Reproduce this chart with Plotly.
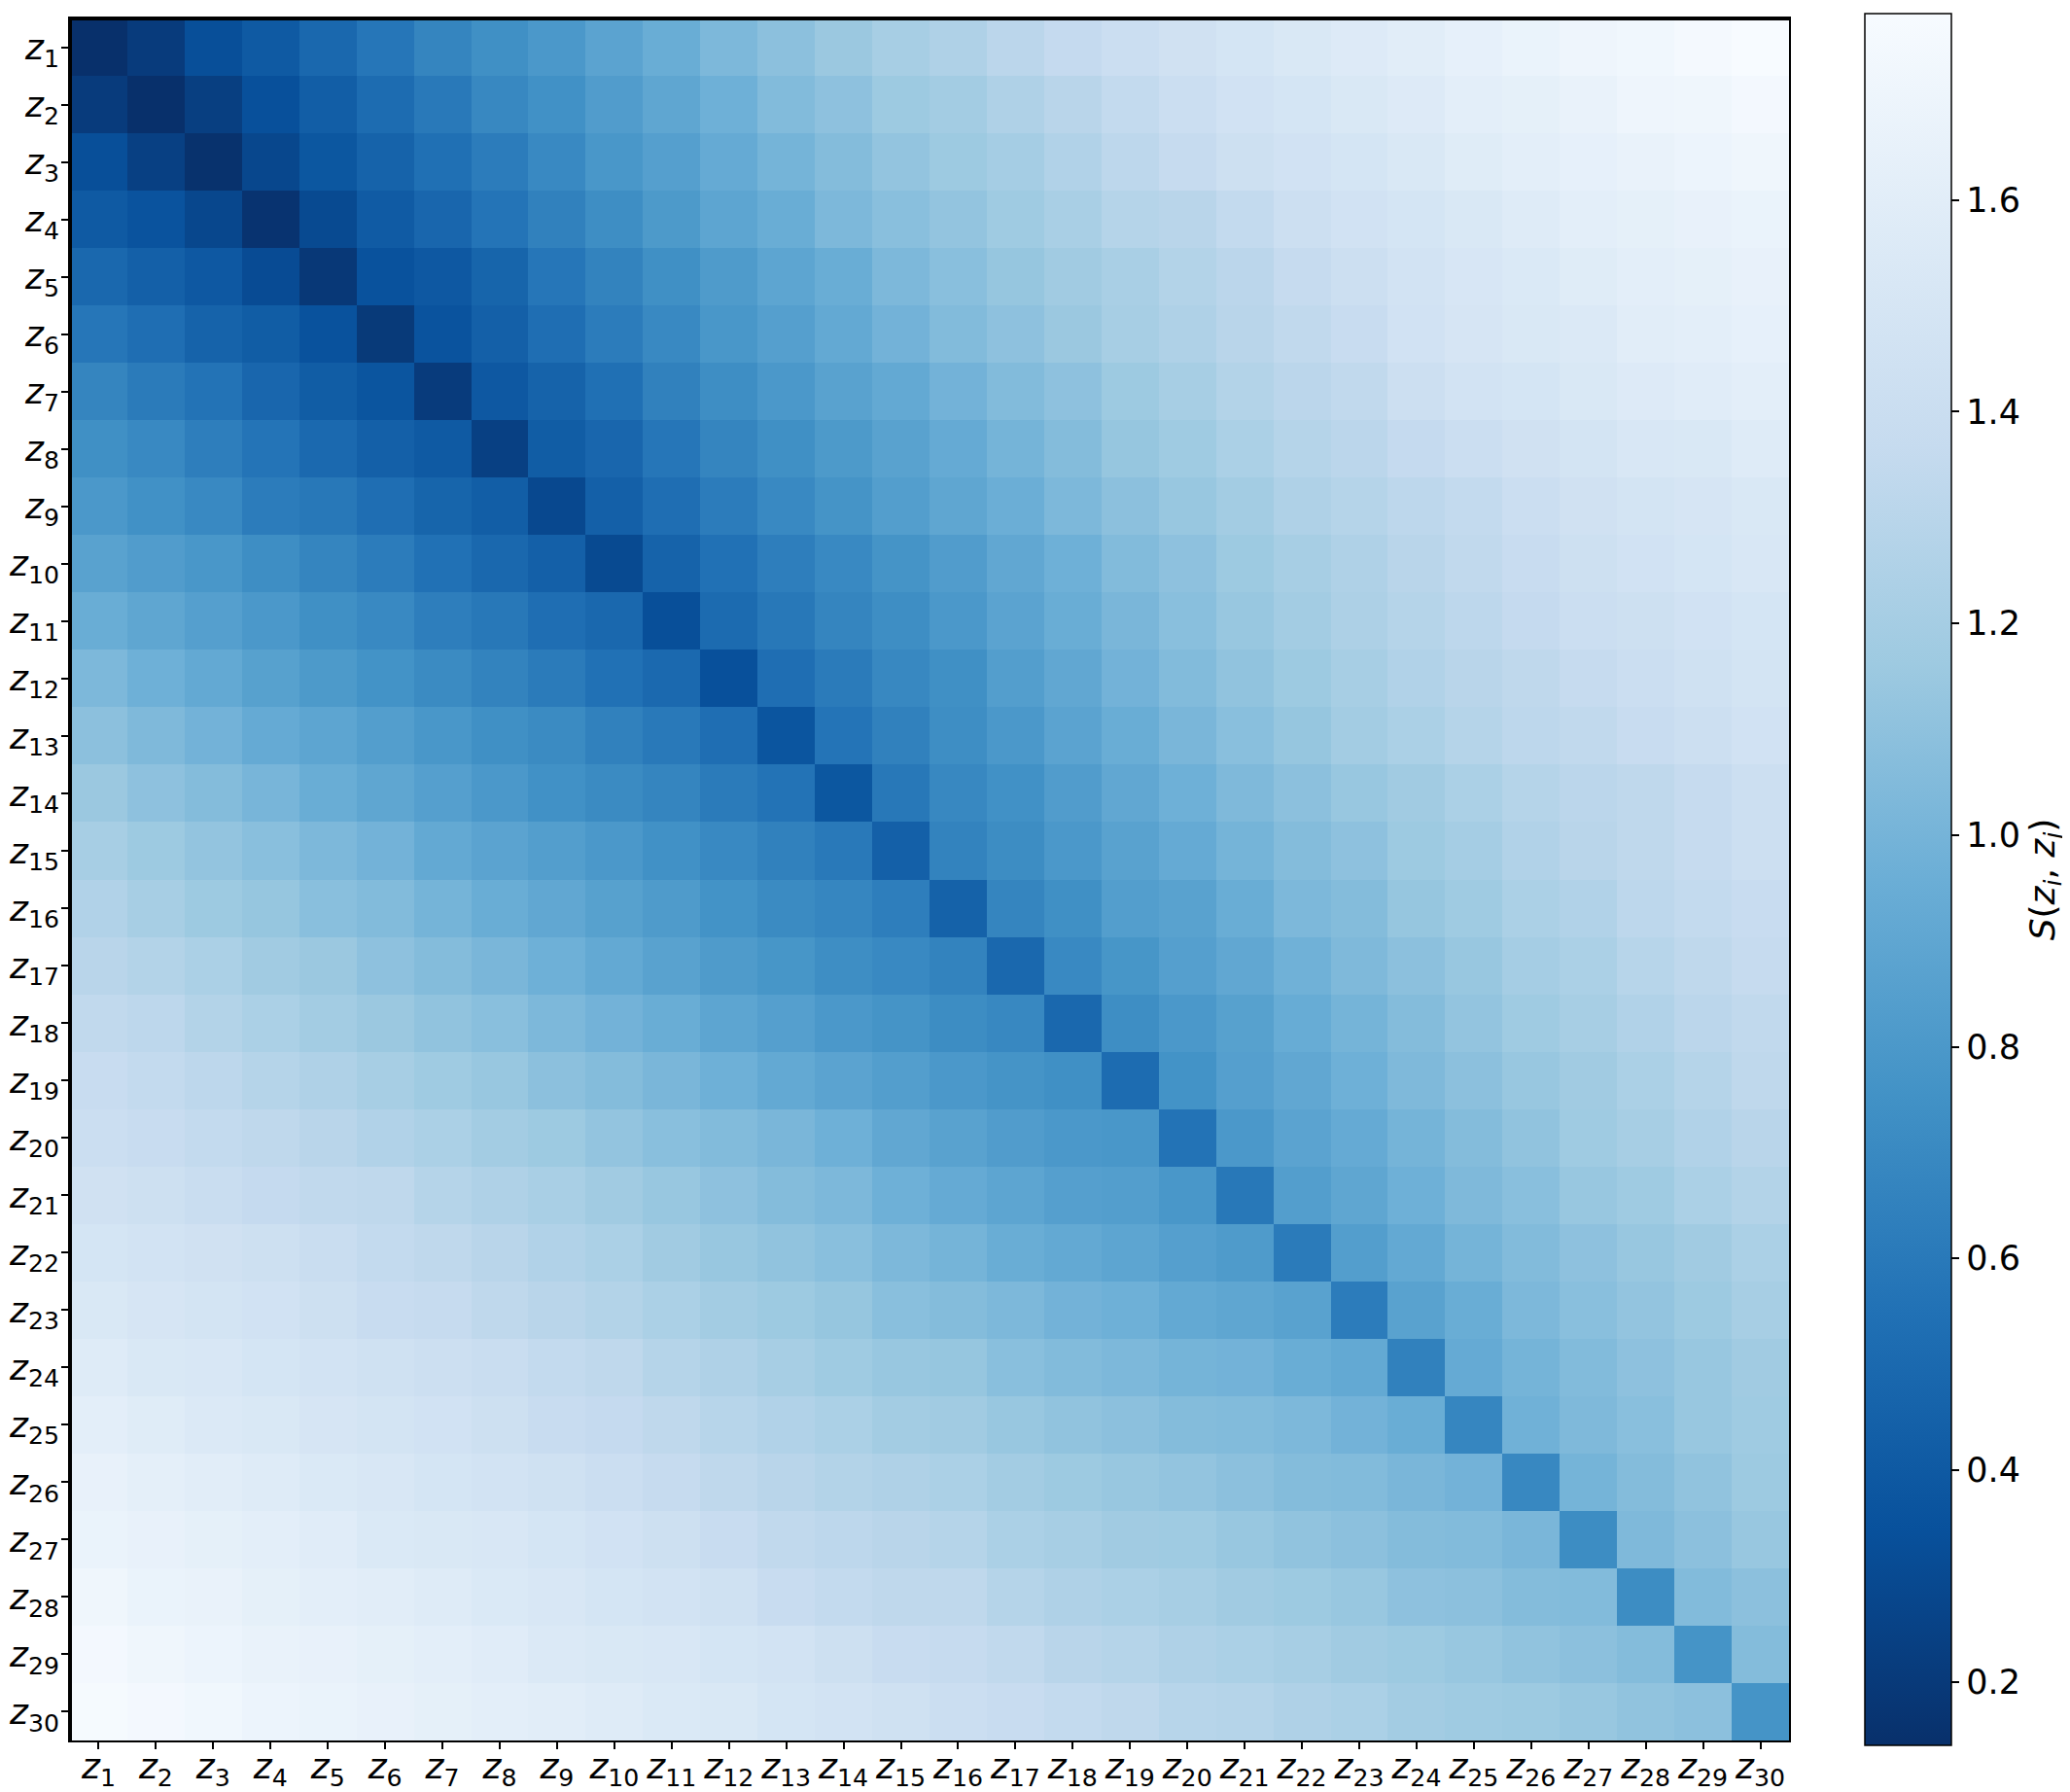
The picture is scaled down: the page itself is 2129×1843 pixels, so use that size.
import plotly.graph_objects as go

# S(z_i, z_j), one list per row z_1 .. z_30
S_ROWS = [
    [0.14, 0.21, 0.33, 0.40, 0.49, 0.58, 0.67, 0.74, 0.80, 0.88, 0.95, 1.03, 1.09, 1.15, 1.21, 1.25, 1.31, 1.36, 1.41, 1.45, 1.49, 1.53, 1.56, 1.60, 1.64, 1.67, 1.70, 1.72, 1.75, 1.776],
    [0.21, 0.14, 0.23, 0.34, 0.43, 0.52, 0.60, 0.69, 0.75, 0.83, 0.90, 0.97, 1.05, 1.10, 1.16, 1.19, 1.25, 1.30, 1.35, 1.41, 1.46, 1.49, 1.53, 1.56, 1.61, 1.63, 1.66, 1.70, 1.71, 1.74],
    [0.33, 0.24, 0.15, 0.28, 0.38, 0.46, 0.54, 0.62, 0.70, 0.79, 0.85, 0.93, 1.00, 1.06, 1.12, 1.16, 1.20, 1.26, 1.32, 1.37, 1.43, 1.46, 1.49, 1.53, 1.58, 1.61, 1.64, 1.66, 1.69, 1.71],
    [0.40, 0.36, 0.28, 0.16, 0.30, 0.41, 0.48, 0.57, 0.65, 0.73, 0.81, 0.89, 0.95, 1.03, 1.08, 1.12, 1.17, 1.22, 1.28, 1.30, 1.35, 1.42, 1.46, 1.49, 1.53, 1.57, 1.61, 1.63, 1.65, 1.67],
    [0.49, 0.44, 0.39, 0.31, 0.19, 0.35, 0.39, 0.47, 0.58, 0.66, 0.74, 0.82, 0.89, 0.95, 1.03, 1.08, 1.13, 1.18, 1.22, 1.27, 1.31, 1.37, 1.42, 1.47, 1.51, 1.54, 1.58, 1.61, 1.63, 1.65],
    [0.58, 0.53, 0.46, 0.42, 0.35, 0.20, 0.36, 0.44, 0.53, 0.62, 0.70, 0.79, 0.85, 0.92, 0.99, 1.05, 1.10, 1.15, 1.21, 1.25, 1.30, 1.34, 1.38, 1.46, 1.50, 1.53, 1.55, 1.60, 1.61, 1.64],
    [0.67, 0.61, 0.56, 0.48, 0.42, 0.37, 0.21, 0.39, 0.46, 0.54, 0.65, 0.73, 0.80, 0.87, 0.92, 0.99, 1.05, 1.10, 1.16, 1.21, 1.27, 1.31, 1.34, 1.42, 1.47, 1.49, 1.53, 1.56, 1.59, 1.61],
    [0.74, 0.70, 0.63, 0.57, 0.50, 0.44, 0.40, 0.24, 0.42, 0.48, 0.58, 0.67, 0.74, 0.81, 0.87, 0.93, 1.00, 1.06, 1.13, 1.17, 1.23, 1.28, 1.31, 1.36, 1.41, 1.45, 1.48, 1.52, 1.53, 1.57],
    [0.80, 0.75, 0.70, 0.62, 0.59, 0.53, 0.47, 0.43, 0.29, 0.44, 0.53, 0.62, 0.70, 0.77, 0.84, 0.90, 0.96, 1.03, 1.09, 1.14, 1.19, 1.25, 1.28, 1.32, 1.35, 1.41, 1.45, 1.48, 1.50, 1.53],
    [0.87, 0.83, 0.79, 0.73, 0.67, 0.62, 0.55, 0.49, 0.44, 0.30, 0.46, 0.55, 0.63, 0.70, 0.77, 0.83, 0.91, 0.97, 1.05, 1.10, 1.16, 1.21, 1.25, 1.30, 1.34, 1.38, 1.43, 1.46, 1.49, 1.52],
    [0.95, 0.90, 0.85, 0.80, 0.74, 0.70, 0.63, 0.59, 0.53, 0.49, 0.33, 0.51, 0.59, 0.67, 0.73, 0.80, 0.88, 0.95, 1.02, 1.08, 1.14, 1.19, 1.24, 1.28, 1.32, 1.36, 1.41, 1.43, 1.46, 1.49],
    [1.03, 0.97, 0.92, 0.86, 0.81, 0.76, 0.71, 0.66, 0.61, 0.55, 0.50, 0.34, 0.53, 0.61, 0.69, 0.74, 0.84, 0.91, 0.99, 1.05, 1.11, 1.16, 1.21, 1.26, 1.30, 1.33, 1.37, 1.41, 1.44, 1.48],
    [1.09, 1.04, 0.99, 0.93, 0.89, 0.84, 0.79, 0.74, 0.71, 0.65, 0.60, 0.53, 0.37, 0.57, 0.65, 0.73, 0.80, 0.88, 0.95, 1.02, 1.08, 1.13, 1.19, 1.23, 1.28, 1.32, 1.34, 1.38, 1.42, 1.46],
    [1.15, 1.10, 1.06, 1.01, 0.95, 0.90, 0.85, 0.80, 0.75, 0.71, 0.67, 0.61, 0.56, 0.38, 0.59, 0.69, 0.75, 0.83, 0.91, 0.97, 1.04, 1.09, 1.14, 1.18, 1.23, 1.28, 1.31, 1.33, 1.37, 1.42],
    [1.21, 1.16, 1.12, 1.08, 1.03, 0.99, 0.92, 0.88, 0.84, 0.80, 0.75, 0.70, 0.65, 0.60, 0.44, 0.66, 0.72, 0.80, 0.87, 0.93, 1.00, 1.06, 1.10, 1.16, 1.20, 1.26, 1.30, 1.33, 1.37, 1.42],
    [1.26, 1.21, 1.16, 1.13, 1.08, 1.05, 1.00, 0.95, 0.91, 0.86, 0.82, 0.76, 0.71, 0.68, 0.63, 0.45, 0.67, 0.74, 0.84, 0.87, 0.95, 1.03, 1.06, 1.13, 1.17, 1.23, 1.26, 1.32, 1.35, 1.38],
    [1.30, 1.27, 1.23, 1.18, 1.15, 1.10, 1.06, 1.02, 0.97, 0.92, 0.87, 0.82, 0.78, 0.73, 0.70, 0.66, 0.49, 0.70, 0.78, 0.85, 0.91, 0.98, 1.04, 1.09, 1.14, 1.20, 1.23, 1.29, 1.33, 1.37],
    [1.34, 1.32, 1.27, 1.23, 1.19, 1.15, 1.11, 1.08, 1.03, 0.99, 0.95, 0.89, 0.85, 0.80, 0.77, 0.72, 0.69, 0.49, 0.73, 0.80, 0.86, 0.94, 1.00, 1.06, 1.12, 1.17, 1.21, 1.26, 1.31, 1.34],
    [1.38, 1.35, 1.32, 1.28, 1.25, 1.21, 1.17, 1.14, 1.09, 1.06, 1.02, 0.97, 0.92, 0.88, 0.84, 0.80, 0.77, 0.74, 0.52, 0.76, 0.85, 0.91, 0.97, 1.04, 1.09, 1.14, 1.18, 1.23, 1.28, 1.33],
    [1.41, 1.38, 1.35, 1.33, 1.30, 1.26, 1.23, 1.19, 1.16, 1.12, 1.08, 1.05, 1.02, 0.97, 0.91, 0.87, 0.83, 0.80, 0.79, 0.56, 0.80, 0.88, 0.93, 1.00, 1.06, 1.11, 1.17, 1.21, 1.26, 1.30],
    [1.45, 1.43, 1.39, 1.36, 1.34, 1.33, 1.28, 1.25, 1.22, 1.18, 1.14, 1.10, 1.06, 1.03, 0.97, 0.93, 0.89, 0.85, 0.84, 0.79, 0.59, 0.84, 0.90, 0.97, 1.04, 1.08, 1.14, 1.17, 1.23, 1.27],
    [1.49, 1.47, 1.45, 1.43, 1.39, 1.35, 1.33, 1.30, 1.26, 1.23, 1.18, 1.14, 1.11, 1.08, 1.03, 1.00, 0.95, 0.92, 0.89, 0.85, 0.82, 0.61, 0.84, 0.92, 1.00, 1.05, 1.10, 1.14, 1.18, 1.23],
    [1.53, 1.50, 1.48, 1.46, 1.43, 1.38, 1.37, 1.33, 1.30, 1.27, 1.23, 1.19, 1.16, 1.13, 1.08, 1.06, 1.03, 0.99, 0.97, 0.92, 0.90, 0.87, 0.62, 0.87, 0.95, 1.03, 1.08, 1.12, 1.16, 1.21],
    [1.57, 1.53, 1.52, 1.49, 1.47, 1.44, 1.42, 1.39, 1.35, 1.33, 1.28, 1.25, 1.21, 1.17, 1.14, 1.13, 1.08, 1.05, 1.03, 1.00, 0.99, 0.95, 0.92, 0.65, 0.93, 1.00, 1.05, 1.10, 1.14, 1.18],
    [1.61, 1.58, 1.55, 1.53, 1.50, 1.48, 1.46, 1.43, 1.38, 1.36, 1.33, 1.29, 1.26, 1.23, 1.19, 1.18, 1.14, 1.11, 1.09, 1.06, 1.05, 1.03, 0.99, 0.95, 0.68, 0.98, 1.04, 1.08, 1.14, 1.17],
    [1.65, 1.62, 1.60, 1.57, 1.54, 1.52, 1.49, 1.47, 1.44, 1.41, 1.37, 1.33, 1.30, 1.27, 1.25, 1.23, 1.19, 1.16, 1.14, 1.12, 1.09, 1.06, 1.05, 1.02, 0.99, 0.69, 1.00, 1.06, 1.11, 1.16],
    [1.67, 1.65, 1.63, 1.61, 1.59, 1.54, 1.53, 1.52, 1.49, 1.46, 1.43, 1.38, 1.34, 1.32, 1.30, 1.28, 1.23, 1.21, 1.18, 1.17, 1.14, 1.11, 1.09, 1.06, 1.05, 1.02, 0.72, 1.04, 1.09, 1.14],
    [1.71, 1.67, 1.66, 1.63, 1.61, 1.60, 1.57, 1.54, 1.52, 1.49, 1.47, 1.44, 1.38, 1.35, 1.33, 1.33, 1.28, 1.25, 1.23, 1.21, 1.18, 1.16, 1.14, 1.10, 1.09, 1.06, 1.05, 0.72, 1.05, 1.09],
    [1.74, 1.71, 1.69, 1.66, 1.65, 1.63, 1.61, 1.59, 1.55, 1.53, 1.52, 1.49, 1.47, 1.43, 1.38, 1.37, 1.34, 1.30, 1.28, 1.25, 1.23, 1.21, 1.18, 1.16, 1.14, 1.11, 1.09, 1.06, 0.77, 1.06],
    [1.76, 1.74, 1.72, 1.69, 1.67, 1.65, 1.63, 1.61, 1.60, 1.57, 1.54, 1.53, 1.49, 1.47, 1.44, 1.41, 1.38, 1.35, 1.33, 1.29, 1.28, 1.25, 1.23, 1.19, 1.17, 1.16, 1.14, 1.11, 1.09, 0.77],
]

N = len(S_ROWS)
INDEX = list(range(N))
TICK_LABELS = [f"<i>z</i><sub>{i + 1}</sub>" for i in INDEX]
CBAR_TICKS = [0.2, 0.4, 0.6, 0.8, 1.0, 1.2, 1.4, 1.6]
Z_MIN = 0.14
Z_MAX = 1.776

# matplotlib "Blues_r"
BLUES_R = [
    [0.0, "#08306b"], [0.125, "#08519c"], [0.25, "#2171b5"],
    [0.375, "#4292c6"], [0.5, "#6baed6"], [0.625, "#9ecae1"],
    [0.75, "#c6dbef"], [0.875, "#deebf7"], [1.0, "#f7fbff"],
]

FONT = "DejaVu Sans"

fig = go.Figure(go.Heatmap(
    z=S_ROWS,
    x=INDEX,
    y=INDEX,
    colorscale=BLUES_R,
    zmin=Z_MIN,
    zmax=Z_MAX,
    hovertemplate="i=%{y}, j=%{x}<br>S=%{z:.2f}<extra></extra>",
    colorbar=dict(
        thickness=89,
        thicknessmode="pixels",
        len=1781,
        lenmode="pixels",
        x=1.044,
        xanchor="left",
        xpad=0,
        y=0.5,
        yanchor="middle",
        ypad=0,
        outlinecolor="black",
        outlinewidth=1.5,
        ticks="outside",
        ticklen=8,
        tickwidth=1.5,
        tickcolor="black",
        tickvals=CBAR_TICKS,
        tickformat=".1f",
        tickfont=dict(family=FONT, size=35, color="black"),
        title=dict(
            text="<i>S</i>(<i>z</i><sub><i>i</i></sub>, <i>z</i><sub><i>j</i></sub>)",
            side="right",
            font=dict(family=FONT, size=36, color="black"),
        ),
    ),
))

axis_common = dict(
    tickmode="array",
    tickvals=INDEX,
    ticktext=TICK_LABELS,
    ticks="outside",
    ticklen=7,
    tickwidth=1.5,
    tickcolor="black",
    tickfont=dict(family=FONT, size=36, color="black"),
    showgrid=False,
    zeroline=False,
    showline=True,
    mirror=True,
    linecolor="black",
    linewidth=1.5,
)

fig.update_xaxes(range=[-0.5, N - 0.5], ticklabelstandoff=-13, **axis_common)
fig.update_yaxes(range=[N - 0.5, -0.5], ticklabelstandoff=-5, **axis_common)

# thicker top and left frame, as in the reference
fig.add_shape(type="line", xref="paper", yref="paper", x0=0, x1=1, y0=1, y1=1,
              line=dict(color="black", width=4))
fig.add_shape(type="line", xref="paper", yref="paper", x0=0, x1=0, y0=0, y1=1,
              line=dict(color="black", width=4))

# the page body adds an 8px offset, so the figure is 8px smaller on each side
fig.update_layout(
    width=2121,
    height=1835,
    margin=dict(l=64, r=289, t=11, b=53, autoexpand=False),
    paper_bgcolor="white",
    plot_bgcolor="white",
    font=dict(family=FONT, color="black"),
    showlegend=False,
)

fig.write_html("out.html")
